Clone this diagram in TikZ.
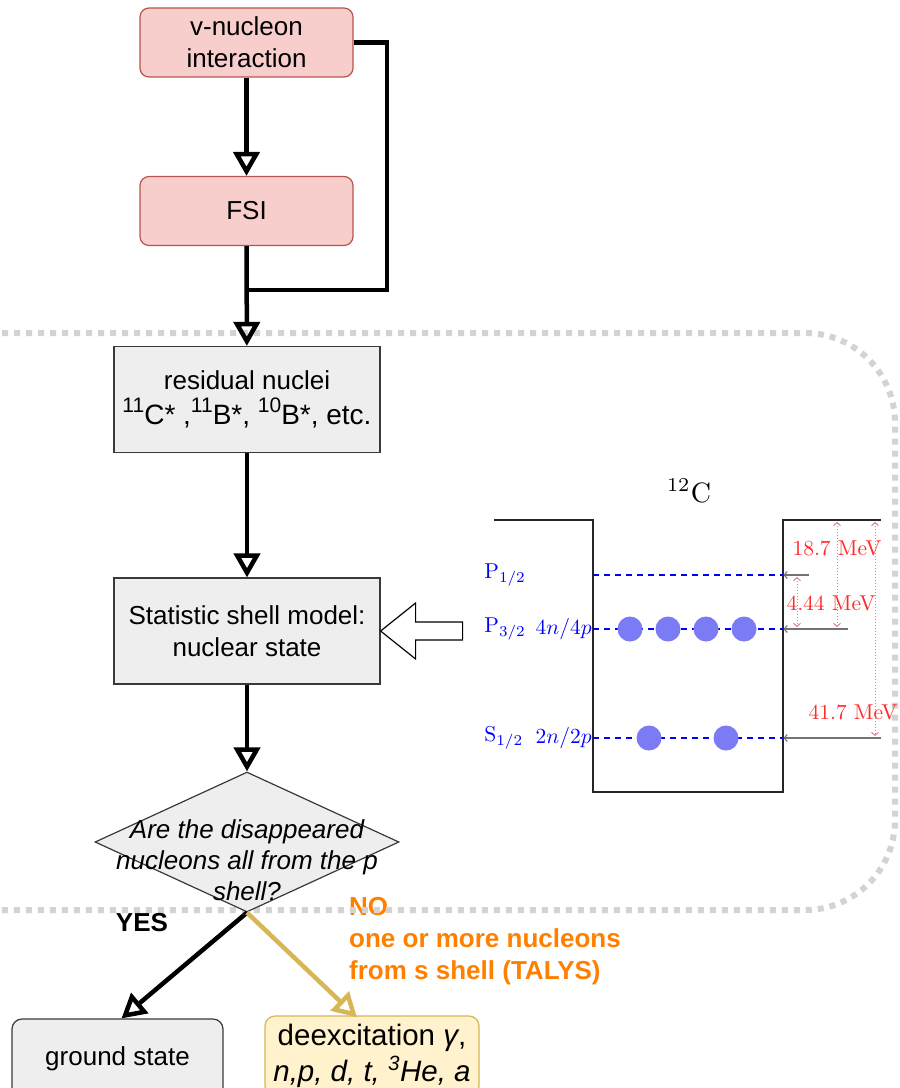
\RequirePackage{fix-cm}
\documentclass[tikz,border=0pt]{standalone}
\usepackage{fontspec}
\newfontfamily\arial{Liberation Sans}
\usetikzlibrary{arrows.meta,shapes.geometric}
\definecolor{redfill}{HTML}{F8CECC}
\definecolor{redline}{HTML}{B85450}
\definecolor{grayfill}{HTML}{EEEEEE}
\definecolor{grayline}{HTML}{36393D}
\definecolor{goldfill}{HTML}{FFF2CC}
\definecolor{goldline}{HTML}{D6B656}
\definecolor{orangetxt}{HTML}{FF8000}
\definecolor{dotgray}{HTML}{D3D3D3}
\definecolor{ballblue}{HTML}{7B7BF5}
\definecolor{mevred}{HTML}{FF2A2A}
\definecolor{pinkdot}{HTML}{E27A98}
\newcommand{\supnum}[1]{\raisebox{0.42em}{\fontsize{21}{21}\selectfont #1}}
\begin{document}
\begin{tikzpicture}[x=1pt,y=-1pt,
  boxtext/.style={font=\arial\fontsize{26}{32}\selectfont, align=center},
  redbox/.style={boxtext, draw=redline, fill=redfill, line width=1.2pt, rounded corners=9pt, inner sep=0pt, minimum width=213pt, minimum height=69pt},
  graybox/.style={boxtext, draw=grayline, fill=grayfill, line width=1.2pt, inner sep=0pt, minimum width=266pt, minimum height=106pt},
  roundgray/.style={graybox, rounded corners=10pt, minimum width=211pt, minimum height=80pt},
  goldbox/.style={boxtext, draw=goldline, fill=goldfill, line width=1.2pt, rounded corners=10pt, inner sep=0pt, minimum width=214pt, minimum height=80pt},
  flowarrow/.style={line width=4.5pt, -{Triangle[open, length=24pt, width=26pt]}},
  goldarrow/.style={flowarrow, draw=goldline},
  bendline/.style={line width=4.5pt},
  lm/.style={font=\fontsize{10}{12}\selectfont, scale=2.15, transform shape},
  bluelabel/.style={lm, text=blue, inner sep=0pt},
  mevlabel/.style={lm, text=mevred, inner sep=0pt},
  bluedash/.style={blue, line width=1.6pt, dash pattern=on 6pt off 5pt},
  graylevel/.style={black!55, line width=1.1pt, -{Straight Barb[length=3pt, width=7pt]}},
  gap/.style={pinkdot, line width=1pt, dotted, {Straight Barb[length=3pt, width=7pt]}-{Straight Barb[length=3pt, width=7pt]}},
  ball/.style={fill=ballblue},
  wall/.style={black!85, line width=1.6pt}
]
\useasboundingbox (0,0) rectangle (900,1088);

% orange label (lies under the dotted frame)
\node[font=\arial\bfseries\fontsize{26}{32}\selectfont, text=orangetxt, align=left, anchor=west, inner sep=0pt] (nolabel) at (349,941) {NO\\one or more nucleons\\from s shell (TALYS)};

% dotted frame
\draw[dotgray, line width=6pt, dash pattern=on 6pt off 6pt, rounded corners=90pt] (-10,333) -- (895,333) -- (895,910) -- (-10,910);

% flow boxes
\node[redbox] (top) at (246.5,42.5) {v-nucleon\\interaction};
\node[redbox] (fsi) at (246.5,211) {FSI};
\node[graybox] (res) at (247,399.5) {residual nuclei\\[3pt]{\fontsize{28}{32}\selectfont\supnum{11}C* ,\supnum{11}B*, \supnum{10}B*, etc.}};
\node[graybox] (ssm) at (247,631) {Statistic shell model:\\nuclear state};
\node[diamond, draw=grayline, fill=grayfill, line width=1.2pt, inner sep=0pt, minimum width=304pt, minimum height=140pt] (dia) at (247,842) {};
\node[font=\arial\itshape\fontsize{26}{31}\selectfont, align=center] (diatext) at (247,860) {Are the disappeared\\nucleons all from the p\\shell?};
\node[roundgray] (ground) at (117.5,1059) {ground state};
\node[goldbox, font=\arial\fontsize{29.5}{36}\selectfont] (deex) at (372,1056) {deexcitation \textit{γ},\\ \textit{n,p, d, t, \textsuperscript{3}He, a}};

% connectors
\coordinate (bend) at (387,290);
\coordinate (join) at (247,290);
\draw[flowarrow] (top) -- (fsi);
\draw[bendline] (top.east) -| (bend) -- (join);
\draw[flowarrow] (fsi) -- (res);
\draw[flowarrow] (res) -- (ssm);
\draw[flowarrow] (ssm) -- (dia);
\draw[flowarrow] (dia.south) -- ([xshift=4pt]ground.north);
\draw[goldarrow] (dia.south) -- ([xshift=-15pt,yshift=1pt]deex.north |- ground.north);
\node[font=\arial\bfseries\fontsize{26}{32}\selectfont] (yes) at (142,923) {YES};

% hollow block arrow
\draw[line width=1.2pt, fill=white] (ssm.east) -- ++(35,-28) -- ++(0,19) -- ++(47,0) -- ++(0,18) -- ++(-47,0) -- ++(0,19) -- cycle;

% 12C shell diagram
\node[font=\fontsize{10}{12}\selectfont, scale=2.8, transform shape] (c12) at (689,491) {$^{12}$C};
\draw[wall] (494,520) -- (593,520) -- (593,792) -- (783,792) -- (783,520) -- (881,520);
\draw[bluedash] (593,575) -- (783,575);
\draw[bluedash] (593,629) -- (783,629);
\draw[bluedash] (593,738) -- (783,738);
\foreach \bx in {630,668,706,744} \fill[ball] (\bx,629) circle[radius=12.5pt];
\foreach \bx in {649,726} \fill[ball] (\bx,738) circle[radius=12.5pt];
\node[bluelabel, anchor=west] (p12) at (484,575) {$\mathrm{P}_{1/2}$};
\node[bluelabel, anchor=west] (p32) at (484,629) {$\mathrm{P}_{3/2}$};
\node[bluelabel, anchor=west] (s12) at (484,738) {$\mathrm{S}_{1/2}$};
\node[bluelabel, anchor=east] (n4) at (592,629) {$4n/4p$};
\node[bluelabel, anchor=east] (n2) at (592,738) {$2n/2p$};
\draw[graylevel] (809,575) -- (783.5,575);
\draw[graylevel] (848,629) -- (783.5,629);
\draw[graylevel] (881,738) -- (783.5,738);
\draw[gap] (797,577) -- (797,627);
\draw[gap] (837,522) -- (837,627);
\draw[gap] (875,522) -- (875,736);
\node[mevlabel] (e187) at (837,548) {18.7 MeV};
\node[mevlabel] (e444) at (831,603) {4.44 MeV};
\node[mevlabel, anchor=east] (e417) at (898,712) {41.7 MeV};
\end{tikzpicture}
\end{document}
